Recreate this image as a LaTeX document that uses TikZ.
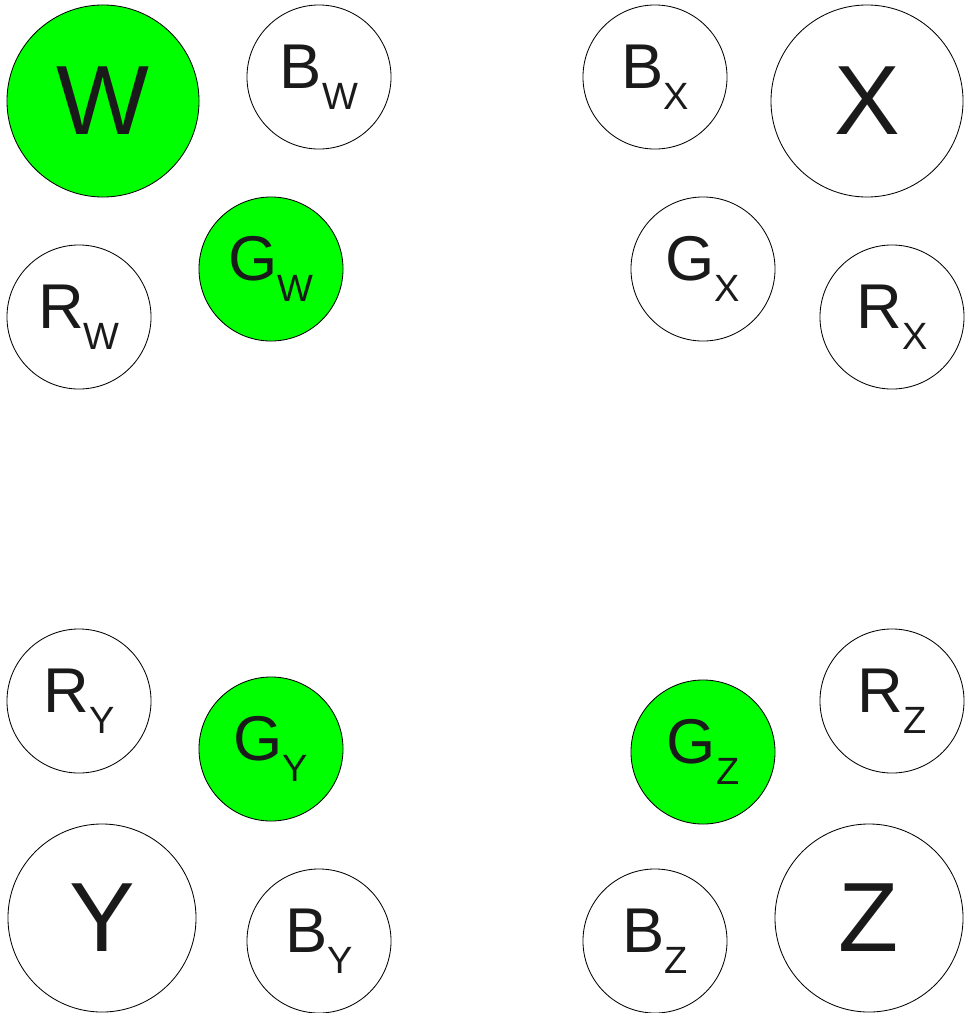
\documentclass[tikz,border=0pt]{standalone}
\usepackage{fontspec}
\setmainfont{Liberation Sans}
\usetikzlibrary{positioning}
\definecolor{Ink}{HTML}{1A1A1A}
\definecolor{Lime}{HTML}{00FF00}
\newcommand{\clbl}[2]{#1\raisebox{-15pt}{\fontsize{27}{27}\selectfont #2}}

\begin{document}
\begin{tikzpicture}[
      x=0.025cm,y=-0.025cm,
      big/.style={circle,draw=black,line width=0.6pt,fill=white,inner sep=0pt,
        minimum size=4.8cm,text=Ink,font=\fontsize{70}{70}\selectfont},
      small/.style={circle,draw=black,line width=0.6pt,fill=white,inner sep=0pt,
        minimum size=3.6cm,text=Ink,font=\fontsize{45}{45}\selectfont},
      on/.style={fill=Lime}
    ]
      \useasboundingbox (0,0) rectangle (965,1013);
      % W corner
      \node[big,on] (w) at (103,101) {W};
      \node[small] (bw) at (319,77) {\clbl{B}{W}};
      \node[small,on] (gw) at (271,269) {\clbl{G}{W}};
      \node[small] (rw) at (79,317) {\clbl{R}{W}};
      % X corner
      \node[big] (x) at (867,101) {X};
      \node[small] (bx) at (655,77) {\clbl{B}{X}};
      \node[small] (gx) at (703,269) {\clbl{G}{X}};
      \node[small] (rx) at (892,317) {\clbl{R}{X}};
      % Y corner
      \node[big,minimum size=4.7cm] (y) at (102,918) {Y};
      \node[small] (ry) at (79,701) {\clbl{R}{Y}};
      \node[small,on] (gy) at (271,749) {\clbl{G}{Y}};
      \node[small] (by) at (319,941) {\clbl{B}{Y}};
      % Z corner
      \node[big,minimum size=4.7cm] (z) at (869,918) {Z};
      \node[small] (rz) at (892,701) {\clbl{R}{Z}};
      \node[small,on] (gz) at (703,752) {\clbl{G}{Z}};
      \node[small] (bz) at (655,941) {\clbl{B}{Z}};
    \end{tikzpicture}
\end{document}
